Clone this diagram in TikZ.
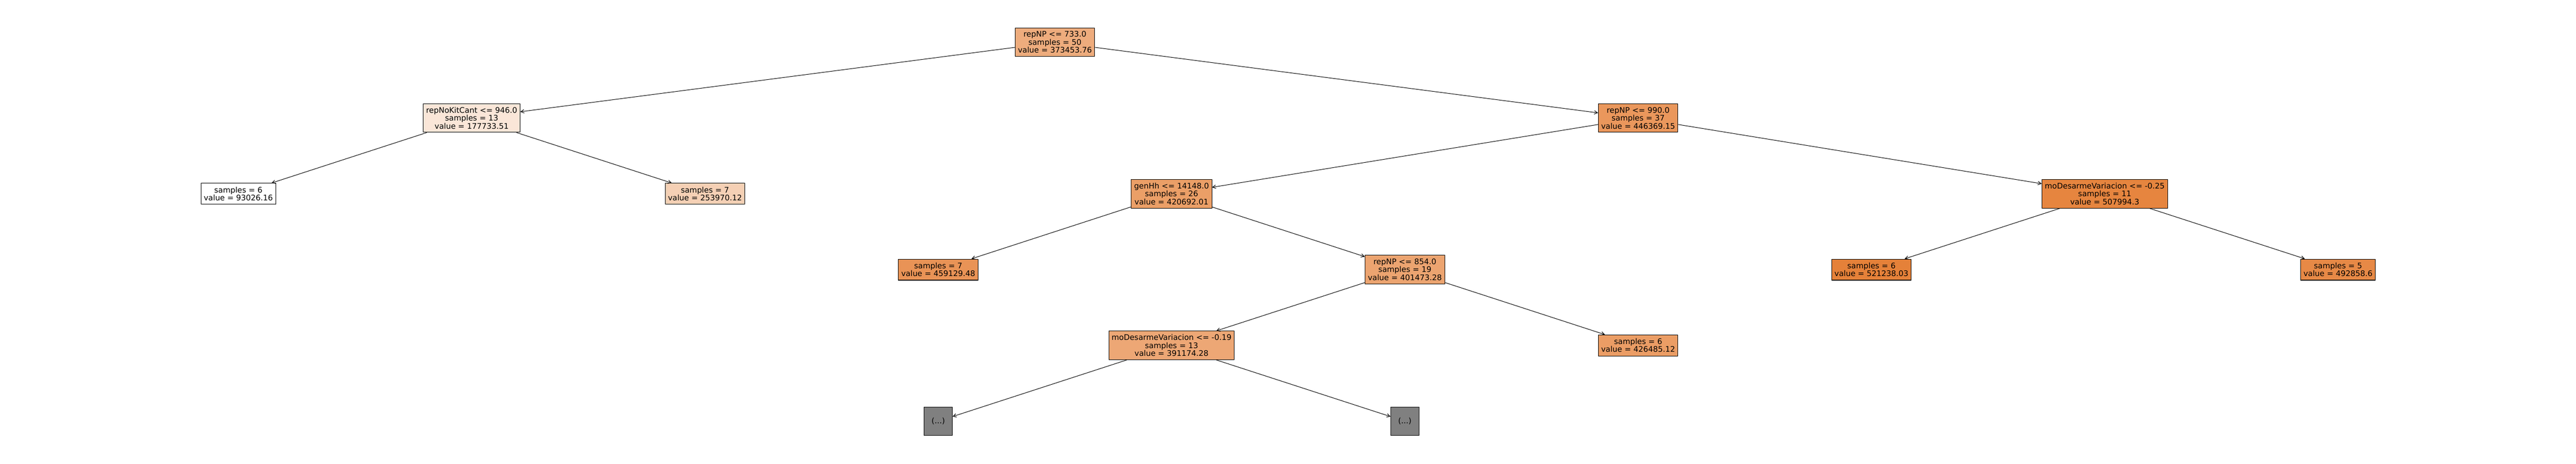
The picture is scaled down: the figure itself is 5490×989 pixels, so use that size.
\documentclass[tikz,border=0pt]{standalone}
\usepackage{fontspec}
\setmainfont{DejaVu Sans}
\usetikzlibrary{arrows.meta}
\definecolor{vRoot}{RGB}{238,172,125}
\definecolor{vKit}{RGB}{250,230,216}
\definecolor{vNPa}{RGB}{234,151,92}
\definecolor{vLa}{RGB}{255,255,255}
\definecolor{vLb}{RGB}{245,208,181}
\definecolor{vHh}{RGB}{235,159,103}
\definecolor{vDesA}{RGB}{230,133,63}
\definecolor{vLc}{RGB}{233,147,86}
\definecolor{vNPb}{RGB}{236,164,112}
\definecolor{vLd}{RGB}{229,129,57}
\definecolor{vLe}{RGB}{231,137,70}
\definecolor{vDesB}{RGB}{237,167,117}
\definecolor{vLf}{RGB}{235,157,101}
\definecolor{vCut}{RGB}{128,128,128}
\begin{document}
\begin{tikzpicture}[x=1pt, y=-1pt, line join=round, >={Straight Barb[length=7pt,width=7.5pt]},
		font=\fontsize{16.4}{17}\selectfont,
		box/.style={draw, line width=1.1pt, align=center, inner xsep=6pt, inner ysep=0pt},
		splitbox/.style={box, minimum height=61pt},
		leafbox/.style={box, minimum height=45pt},
		cutbox/.style={box, fill=vCut, minimum width=60pt, minimum height=61pt}]
			\def\xo{508} \def\dx{497.2} % columnas
			\def\yo{90} \def\dy{161.6} % niveles
			\useasboundingbox (0,0) rectangle (5490,989);
			% nivel 0
			\node[splitbox, fill=vRoot] (root) at ({\xo+3.5*\dx},\yo) {repNP <= 733.0\\samples = 50\\value = 373453.76};
			% nivel 1
			\node[splitbox, fill=vKit] (kit) at ({\xo+1*\dx},{\yo+1*\dy}) {repNoKitCant <= 946.0\\samples = 13\\value = 177733.51};
			\node[splitbox, fill=vNPa] (npA) at ({\xo+6*\dx},{\yo+1*\dy}) {repNP <= 990.0\\samples = 37\\value = 446369.15};
			% nivel 2
			\node[leafbox, fill=vLa] (leafA) at ({\xo+0*\dx},{\yo+2*\dy}) {samples = 6\\value = 93026.16};
			\node[leafbox, fill=vLb] (leafB) at ({\xo+2*\dx},{\yo+2*\dy}) {samples = 7\\value = 253970.12};
			\node[splitbox, fill=vHh] (hh) at ({\xo+4*\dx},{\yo+2*\dy}) {genHh <= 14148.0\\samples = 26\\value = 420692.01};
			\node[splitbox, fill=vDesA] (desA) at ({\xo+8*\dx},{\yo+2*\dy}) {moDesarmeVariacion <= -0.25\\samples = 11\\value = 507994.3};
			% nivel 3
			\node[leafbox, fill=vLc] (leafC) at ({\xo+3*\dx},{\yo+3*\dy}) {samples = 7\\value = 459129.48};
			\node[splitbox, fill=vNPb] (npB) at ({\xo+5*\dx},{\yo+3*\dy}) {repNP <= 854.0\\samples = 19\\value = 401473.28};
			\node[leafbox, fill=vLd] (leafD) at ({\xo+7*\dx},{\yo+3*\dy}) {samples = 6\\value = 521238.03};
			\node[leafbox, fill=vLe] (leafE) at ({\xo+9*\dx},{\yo+3*\dy}) {samples = 5\\value = 492858.6};
			% nivel 4
			\node[splitbox, fill=vDesB] (desB) at ({\xo+4*\dx},{\yo+4*\dy}) {moDesarmeVariacion <= -0.19\\samples = 13\\value = 391174.28};
			\node[leafbox, fill=vLf] (leafF) at ({\xo+6*\dx},{\yo+4*\dy}) {samples = 6\\value = 426485.12};
			% nivel 5
			\node[cutbox] (cutA) at ({\xo+3*\dx},{\yo+5*\dy}) {(...)};
			\node[cutbox] (cutB) at ({\xo+5*\dx},{\yo+5*\dy}) {(...)};
			% aristas
			\draw[->, line width=1.1pt] (root) -- (kit);
			\draw[->, line width=1.1pt] (root) -- (npA);
			\draw[->, line width=1.1pt] (kit) -- (leafA);
			\draw[->, line width=1.1pt] (kit) -- (leafB);
			\draw[->, line width=1.1pt] (npA) -- (hh);
			\draw[->, line width=1.1pt] (npA) -- (desA);
			\draw[->, line width=1.1pt] (hh) -- (leafC);
			\draw[->, line width=1.1pt] (hh) -- (npB);
			\draw[->, line width=1.1pt] (desA) -- (leafD);
			\draw[->, line width=1.1pt] (desA) -- (leafE);
			\draw[->, line width=1.1pt] (npB) -- (desB);
			\draw[->, line width=1.1pt] (npB) -- (leafF);
			\draw[->, line width=1.1pt] (desB) -- (cutA);
			\draw[->, line width=1.1pt] (desB) -- (cutB);
		\end{tikzpicture}
\end{document}
